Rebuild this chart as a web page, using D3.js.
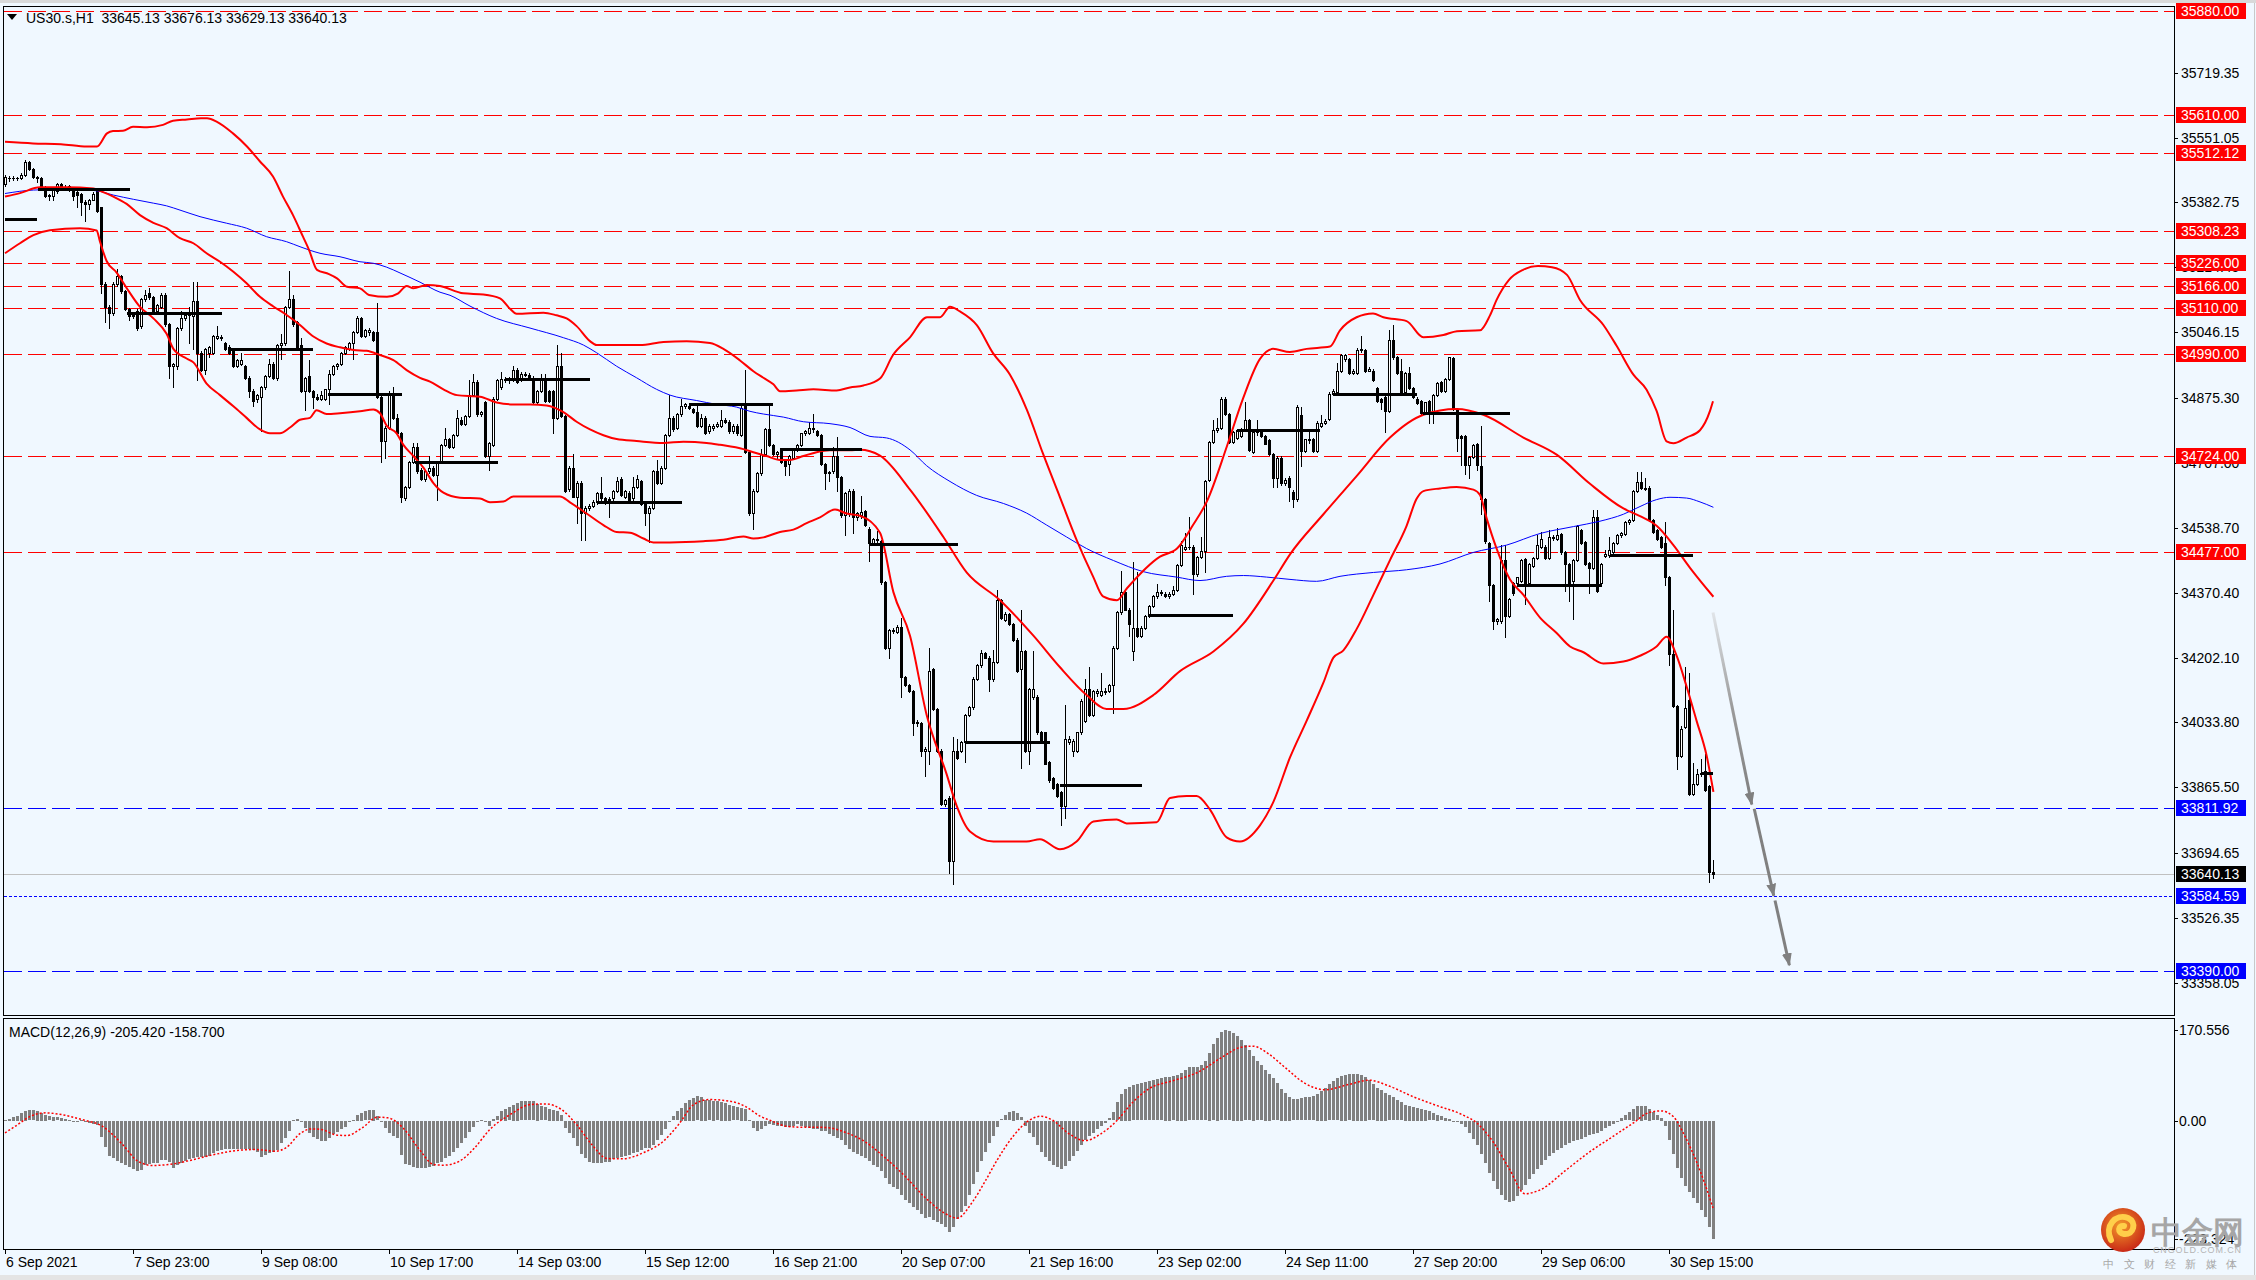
<!DOCTYPE html>
<html>
<head>
<meta charset="utf-8">
<script src="https://cdn.jsdelivr.net/npm/d3@7"></script>
<style>
  body { margin: 0; background: #f0f8ff; }
  svg text { font-family: "Liberation Sans", Arial, sans-serif; font-size: 14px; }
</style>
</head>
<body>
<svg id="chart" width="2256" height="1280"></svg>
<script>
// ---- data: US30.s H1 candles (one entry per bar) ----
var opens = [
35430,35445,35446,35445,35445,35454,35489,35469,35449,35447,
35420,35400,35400,35412,35430,35420,35425,35420,35410,35405,
35385,35380,35390,35415,35370,35171,35112,35097,35171,35191,
35152,35107,35087,35102,35062,35132,35147,35137,35102,35112,
35142,35067,34958,34958,35057,35082,35092,35087,35127,34993,
34948,34993,34993,35032,35035,35018,35008,34998,34958,34963,
34958,34928,34893,34874,34879,34903,34933,34963,34928,35013,
35018,35112,35132,35072,35013,34893,34933,34893,34878,34874,
34874,34898,34938,34958,34963,34993,35003,35018,35047,35082,
35037,35047,35047,35047,34879,34764,34799,34883,34824,34784,
34615,34645,34710,34749,34690,34665,34685,34695,34675,34710,
34754,34769,34749,34779,34819,34809,34829,34883,34918,34834,
34864,34725,34754,34874,34903,34925,34923,34923,34948,34923,
34938,34935,34928,34864,34893,34923,34893,34893,34824,34958,
34829,34640,34695,34620,34655,34576,34591,34596,34605,34630,
34615,34610,34615,34635,34665,34620,34630,34615,34645,34660,
34605,34576,34591,34685,34655,34695,34779,34824,34799,34834,
34854,34856,34846,34839,34804,34824,34789,34799,34804,34804,
34819,34814,34789,34804,34779,34854,34735,34576,34635,34680,
34730,34794,34754,34730,34740,34715,34705,34720,34740,34754,
34784,34784,34797,34789,34779,34705,34680,34685,34725,34670,
34571,34576,34635,34566,34571,34582,34536,34500,34510,34505,
34397,34228,34274,34269,34281,34151,34131,34115,34033,34033,
33961,33961,34172,34069,33961,33823,33838,33674,33961,33961,
33982,34054,34074,34146,34182,34213,34202,34146,34192,34351,
34300,34315,34290,34249,34172,34218,33961,34100,34100,34008,
34008,33931,33889,33874,33853,33818,33982,33961,33961,34008,
34038,34120,34054,34110,34105,34115,34115,34131,34228,34320,
34372,34326,34218,34280,34259,34280,34310,34336,34361,34372,
34367,34362,34367,34377,34443,34485,34490,34490,34418,34464,
34479,34664,34761,34792,34797,34874,34833,34761,34772,34777,
34792,34818,34736,34787,34787,34777,34767,34731,34669,34720,
34654,34669,34633,34613,34832,34738,34768,34768,34738,34802,
34812,34822,34887,34892,34946,34976,34976,34941,34941,34999,
34999,34946,34946,34902,34872,34877,34842,35026,34981,34946,
34892,34941,34902,34874,34867,34837,34867,34837,34884,34917,
34894,34926,34979,34847,34777,34777,34703,34723,34755,34698,
34614,34499,34390,34296,34296,34455,34311,34395,34395,34400,
34457,34395,34440,34460,34490,34490,34460,34514,34509,34522,
34475,34445,34400,34455,34534,34502,34447,34435,34566,34395,
34465,34467,34475,34499,34519,34524,34554,34559,34634,34658,
34640,34643,34559,34534,34514,34499,34410,34212,34077,33948,
34023,34092,33849,33874,33899,33907,33869,33645.13];

var highs = [
35454,35452,35452,35450,35458,35494,35491,35472,35452,35450,
35425,35405,35417,35432,35434,35428,35428,35423,35415,35408,
35388,35392,35410,35420,35372,35176,35118,35176,35211,35195,
35156,35110,35094,35106,35135,35157,35160,35140,35120,35147,
35147,35070,34966,35060,35102,35097,35112,35176,35176,34998,
35006,35010,35040,35062,35040,35022,35012,35002,34976,34993,
34962,34932,34898,34886,34906,34936,34978,34968,35016,35042,
35115,35206,35142,35076,35032,34931,34973,34896,34886,34893,
34900,34948,34960,34966,34996,35010,35022,35050,35087,35086,
35055,35056,35050,35122,34882,34802,34893,34903,34834,34787,
34648,34712,34759,34759,34693,34688,34725,34698,34713,34757,
34799,34772,34782,34844,34826,34832,34923,34938,34923,34842,
34868,34762,34877,34926,34943,34930,34930,34958,34953,34942,
34943,34940,34932,34896,34938,34938,34896,34896,35013,34993,
34832,34698,34730,34660,34660,34596,34600,34610,34633,34670,
34618,34618,34638,34670,34670,34638,34634,34670,34675,34664,
34608,34595,34688,34715,34698,34782,34883,34828,34837,34874,
34862,34862,34849,34859,34834,34828,34808,34808,34814,34844,
34823,34818,34808,34808,34859,34948,34738,34640,34683,34744,
34797,34859,34757,34738,34743,34718,34728,34742,34757,34786,
34792,34814,34834,34792,34782,34708,34686,34749,34774,34674,
34633,34640,34640,34580,34622,34586,34540,34512,34531,34508,
34400,34277,34280,34287,34305,34154,34134,34118,34040,34036,
33970,34228,34175,34072,33964,33836,33842,33997,33992,33985,
34057,34077,34151,34185,34223,34217,34205,34223,34377,34355,
34320,34318,34293,34252,34326,34222,34124,34218,34104,34012,
34010,33935,33892,33877,33856,34079,33998,33990,34010,34095,
34146,34177,34118,34120,34162,34122,34134,34232,34323,34428,
34376,34330,34449,34423,34283,34313,34338,34364,34392,34378,
34372,34372,34387,34446,34505,34526,34567,34494,34466,34515,
34662,34764,34818,34823,34879,34878,34836,34790,34795,34797,
34864,34822,34790,34818,34790,34780,34770,34734,34724,34724,
34668,34672,34636,34857,34852,34770,34787,34772,34815,34832,
34822,34890,34898,34966,34990,34990,34980,34950,35004,35036,
35003,34955,34950,34905,34875,34880,35051,35065,34984,34976,
34944,34956,34905,34877,34870,34866,34870,34886,34916,34920,
34928,34982,34983,34850,34780,34780,34726,34756,34758,34802,
34617,34502,34393,34305,34494,34494,34358,34398,34412,34458,
34460,34448,34463,34519,34529,34493,34534,34520,34539,34525,
34478,34448,34458,34547,34537,34505,34450,34584,34584,34447,
34480,34514,34502,34522,34528,34556,34562,34637,34683,34683,
34668,34646,34562,34537,34517,34554,34413,34326,34080,34025,
34177,34162,33928,33914,33938,33953,33872,33676.13];

var lows = [
35425,35438,35440,35440,35443,35452,35467,35447,35435,35418,
35398,35390,35390,35408,35418,35414,35412,35390,35370,35350,
35335,35365,35388,35358,35147,35072,35057,35092,35165,35148,
35105,35077,35082,35052,35058,35128,35132,35100,35098,35108,
35062,34928,34903,34950,35052,35078,35018,35003,34923,34945,
34938,34983,34990,35028,35025,35000,34990,34955,34955,34960,
34925,34879,34854,34866,34789,34900,34930,34925,34922,34978,
35014,35108,35062,35005,34890,34844,34890,34849,34870,34870,
34870,34859,34935,34952,34960,34990,35000,34978,35044,35034,
35033,35040,35024,34876,34710,34720,34796,34821,34782,34605,
34610,34642,34706,34682,34662,34660,34680,34672,34610,34706,
34750,34747,34745,34776,34805,34806,34826,34880,34830,34830,
34722,34690,34750,34870,34900,34918,34915,34920,34915,34920,
34932,34928,34860,34860,34890,34866,34866,34784,34820,34826,
34632,34635,34618,34551,34506,34506,34585,34592,34600,34612,
34600,34566,34610,34632,34622,34616,34607,34612,34642,34598,
34546,34501,34588,34652,34652,34692,34776,34790,34796,34830,
34850,34846,34836,34800,34800,34783,34786,34792,34800,34800,
34810,34786,34786,34780,34776,34732,34573,34536,34632,34676,
34727,34751,34727,34720,34707,34675,34675,34717,34737,34751,
34780,34781,34788,34777,34702,34640,34660,34682,34635,34568,
34521,34570,34526,34560,34565,34544,34454,34495,34502,34394,
34225,34202,34265,34265,34100,34128,34112,34002,34025,33946,
33895,33925,34066,33958,33820,33818,33643,33615,33938,33958,
33931,34050,34070,34143,34178,34200,34115,34142,34188,34302,
34296,34287,34246,34164,33915,33958,33925,34096,34005,33985,
33925,33880,33860,33840,33767,33787,33978,33946,33958,34005,
34035,34050,34050,34102,34102,34108,34112,34059,34225,34316,
34325,34259,34197,34256,34255,34277,34307,34333,34358,34365,
34360,34358,34364,34374,34440,34480,34484,34367,34415,34460,
34423,34661,34758,34788,34794,34831,34760,34758,34768,34774,
34789,34738,34733,34780,34775,34755,34728,34644,34644,34650,
34650,34608,34592,34608,34698,34735,34760,34735,34735,34800,
34808,34818,34884,34888,34943,34972,34938,34938,34938,34996,
34943,34945,34920,34865,34847,34787,34838,34978,34938,34890,
34888,34900,34875,34860,34835,34834,34812,34812,34880,34892,
34890,34922,34845,34738,34703,34678,34668,34720,34688,34574,
34500,34350,34276,34290,34292,34256,34308,34365,34392,34397,
34341,34392,34437,34457,34487,34457,34457,34508,34506,34472,
34375,34350,34301,34452,34496,34443,34370,34432,34372,34392,
34462,34464,34472,34496,34515,34521,34550,34556,34631,34640,
34636,34556,34526,34506,34487,34390,34182,34074,33914,33945,
34020,33846,33846,33871,33895,33856,33621,33629.13];

var closes = [
35449,35446,35445,35447,35454,35489,35469,35449,35447,35420,
35400,35402,35415,35430,35420,35421,35415,35400,35402,35385,
35380,35390,35405,35360,35171,35112,35097,35171,35191,35152,
35107,35087,35092,35057,35132,35142,35137,35102,35117,35142,
35067,34958,34963,35057,35082,35092,35090,35127,34993,34948,
35003,35008,35037,35037,35032,35003,34993,34958,34973,34973,
34928,34893,34869,34883,34903,34933,34963,34928,35013,35018,
35112,35132,35067,35008,34893,34928,34893,34879,34874,34883,
34898,34938,34958,34963,34993,35008,35018,35047,35082,35037,
35052,35052,35027,34879,34764,34799,34883,34824,34784,34620,
34645,34710,34749,34685,34665,34685,34695,34675,34710,34754,
34769,34749,34779,34824,34809,34829,34883,34918,34834,34839,
34725,34759,34874,34923,34925,34923,34925,34948,34918,34938,
34936,34931,34864,34893,34923,34869,34869,34824,34958,34829,
34635,34695,34620,34655,34576,34591,34596,34605,34630,34615,
34605,34614,34635,34660,34625,34635,34610,34645,34665,34601,
34576,34591,34685,34655,34695,34779,34824,34794,34834,34854,
34859,34849,34839,34804,34824,34786,34804,34804,34809,34819,
34814,34789,34804,34784,34849,34735,34576,34635,34680,34730,
34794,34754,34730,34735,34710,34700,34725,34740,34754,34784,
34789,34799,34794,34779,34705,34680,34684,34725,34670,34571,
34630,34635,34566,34576,34581,34546,34500,34510,34508,34397,
34228,34274,34272,34281,34151,34131,34115,34033,34035,33961,
33966,34167,34069,33961,33823,33833,33674,33961,33941,33982,
34054,34074,34146,34182,34213,34202,34146,34192,34351,34305,
34315,34290,34249,34167,34218,33961,34120,34120,34008,33987,
33925,33884,33864,33843,33818,33992,33992,33987,34008,34090,
34120,34054,34115,34115,34115,34113,34131,34228,34320,34372,
34326,34290,34280,34259,34280,34310,34336,34361,34372,34370,
34362,34367,34377,34443,34495,34490,34490,34418,34464,34479,
34659,34761,34792,34797,34874,34833,34761,34787,34792,34794,
34818,34741,34787,34792,34777,34756,34731,34669,34720,34654,
34664,34644,34613,34852,34738,34768,34766,34738,34812,34812,
34817,34887,34894,34946,34986,34986,34941,34946,35001,35003,
34946,34951,34922,34867,34864,34842,35026,34981,34941,34892,
34941,34902,34877,34862,34837,34864,34837,34884,34914,34894,
34926,34981,34847,34773,34773,34703,34723,34753,34703,34614,
34504,34390,34296,34301,34455,34311,34355,34370,34410,34455,
34395,34445,34460,34494,34509,34460,34514,34512,34519,34475,
34445,34390,34455,34544,34499,34445,34435,34566,34375,34445,
34470,34480,34499,34519,34526,34554,34559,34634,34658,34643,
34643,34559,34529,34509,34490,34410,34212,34077,33948,34018,
34072,33849,33874,33899,33904,33859,33645,33640.13];

// ---- indicator lines, read as [bar, price] points ----
var bbUpper = [[0,35540],[7,35536],[14,35534],[20.5,35528],[23,35528],[25.5,35562],[27,35568],[29.5,35569],[32,35579],[35.5,35578],
[39.5,35584],[42,35595],[45.5,35598],[49,35601],[50.5,35601],[53,35592],[57,35562],[60.5,35528],[63.75,35489],[67,35450],
[69.5,35398],[72,35350],[74.5,35294],[76,35260],[78,35208],[81,35197],[83,35186],[85.5,35164],[88.75,35160],[91,35143],
[95.5,35138],[98.3,35147],[100.4,35166],[102.1,35160],[105.4,35169],[108.75,35166],[114.6,35147],[119.6,35144],[123.75,35134],[126.25,35107],
[127.9,35094],[134.6,35097],[137.9,35090],[140.4,35082],[142.9,35062],[146.25,35023],[147.9,35013],[158.75,35013],[164.6,35021],[170.4,35023],
[176.25,35018],[179.6,35003],[183.75,34973],[187.1,34945],[189.6,34928],[192.1,34911],[193.75,34893],[197.9,34895],[202.1,34898],[207.9,34895],
[211.25,34903],[214.6,34908],[218.75,34926],[222,34987],[226.25,35033],[230.5,35085],[233.75,35085],[236.25,35112],[238.75,35100],[243,35064],
[247,34992],[251.25,34936],[255.5,34844],[259.5,34731],[263.75,34618],[268,34505],[272,34413],[274.5,34361],[278,34351],[280.5,34382],
[288.75,34464],[293,34485],[297,34546],[300.5,34608],[305.5,34751],[309.5,34874],[313.75,34977],[317,35003],[321.25,34995],[325.4,35003],
[331.25,35009],[333.75,35051],[337.9,35085],[342,35095],[344.6,35085],[350.4,35075],[354.6,35033],[359.6,35039],[363,35049],[368.75,35051],
[371.25,35090],[372.9,35130],[376,35182],[379.5,35208],[383.25,35218],[386.75,35215],[390.5,35195],[393.75,35130],[399.6,35065],[402.9,35011],
[407.1,34936],[410.4,34897],[412.9,34842],[415.4,34763],[417.1,34758],[420.4,34773],[423.75,34792],[426.25,34842],[427,34867]];

var bbMiddle = [[0,35398],[3.75,35407],[8.75,35422],[15.4,35422],[22.1,35419],[23.75,35413],[27.1,35398],[30.4,35379],[33.75,35350],[37.1,35330],
[40.4,35316],[43.75,35290],[47.1,35277],[50.4,35251],[53.75,35229],[57.1,35203],[60.4,35173],[63.75,35138],[67.1,35113],[70.4,35091],
[73.75,35065],[77.1,35035],[80.4,35017],[83.75,35007],[87.1,35000],[90.4,34998],[93.75,34987],[97.1,34974],[100.4,34948],[103.75,34928],
[106.25,34918],[109.6,34898],[113,34883],[118.75,34879],[122.9,34864],[127.1,34859],[131.25,34859],[135.4,34856],[139.6,34839],[142.9,34814],
[146.25,34794],[149.6,34779],[152.9,34769],[157.9,34764],[164.6,34759],[169.6,34762],[175.4,34759],[178.75,34754],[184.6,34743],[187.1,34735],
[190.4,34725],[193.75,34715],[196.25,34715],[199.6,34725],[202.9,34735],[206.25,34740],[211.25,34740],[213.75,34741],[218.75,34726],[226.25,34638],
[234.6,34515],[240.4,34423],[248.75,34351],[257.1,34259],[263.75,34177],[270.4,34105],[275.4,34069],[279.6,34069],[287.1,34105],[293.75,34167],
[302.1,34218],[309.6,34290],[317.1,34402],[321.25,34470],[329.6,34574],[337.9,34673],[346.25,34773],[354.6,34832],[362.9,34847],[369.6,34832],
[379.6,34773],[388,34728],[396.25,34653],[404.6,34589],[408.75,34569],[412.9,34544],[417.1,34494],[421.25,34435],[427.1,34360]];

var bbLower = [[0,35251],[3.75,35277],[7.1,35298],[11.25,35311],[18.75,35316],[22.9,35310],[23.75,35281],[25.4,35231],[27.9,35201],[30.4,35161],
[33.75,35112],[37.1,35082],[40.4,35042],[42.1,35003],[45.4,34978],[47.1,34968],[50.4,34913],[53.75,34883],[57.1,34854],[60.4,34824],
[63.75,34794],[66.25,34784],[68.75,34784],[71.25,34799],[73.75,34819],[76.25,34824],[77.9,34844],[80.4,34834],[83.75,34836],[88.75,34841],
[92.1,34846],[93.75,34836],[95.4,34804],[97.9,34784],[99.6,34754],[102.1,34725],[104.6,34695],[107.1,34655],[109.6,34630],[113.75,34617],
[118.75,34615],[121.25,34605],[124.6,34607],[127.1,34620],[131.25,34620],[138.75,34620],[141.25,34605],[145.4,34576],[149.6,34546],[152.9,34528],
[156.25,34526],[159.6,34511],[162.1,34501],[166.25,34501],[174.6,34504],[179.6,34508],[184.6,34516],[187.1,34511],[189.6,34514],[193.75,34528],
[197.1,34534],[200.4,34551],[203.75,34566],[207.5,34586],[210.4,34576],[213.75,34570],[218.75,34526],[222.1,34372],[226.25,34259],[230.4,34054],
[235.4,33900],[237.9,33818],[241.25,33751],[247.1,33725],[255.4,33725],[258.75,33731],[263.75,33705],[267.9,33725],[272.1,33777],[277.9,33782],
[280.4,33772],[287.9,33775],[291.25,33838],[295.4,33843],[297.9,33843],[301.25,33808],[305.4,33736],[308.75,33725],[313.75,33767],[317.1,33828],
[321.25,33943],[325.4,34038],[329.6,34137],[332.1,34202],[334.6,34221],[337.9,34276],[342.1,34365],[346.25,34455],[350.4,34544],[352.9,34614],
[354.6,34634],[358.75,34641],[362.9,34645],[367.1,34638],[368.75,34624],[370.4,34564],[372.9,34485],[376.25,34405],[379.6,34365],[383.75,34306],
[387.9,34266],[391.25,34231],[394.6,34216],[399.6,34187],[404.6,34192],[408.75,34207],[412.9,34231],[415.4,34256],[417.9,34207],[420.4,34127],
[422.9,34038],[425.4,33948],[427.1,33854]];

var maBlue = [[0,35406],[7.1,35415],[15.4,35417],[22.9,35413],[27.1,35402],[32.1,35391],[37.1,35381],[40.4,35374],[43.75,35363],[48.75,35346],
[55.4,35329],[60.4,35316],[65.4,35294],[70.4,35281],[73.75,35268],[78.75,35251],[83.75,35242],[88.75,35229],[92.1,35225],[95.4,35215],
[98.75,35200],[103.75,35176],[108.75,35150],[111.25,35142],[116.25,35114],[122.9,35082],[131.25,35057],[139.6,35032],[144.6,35013],[147.9,34993],
[152.9,34958],[157.9,34928],[162.9,34898],[166.25,34883],[172.9,34869],[177.9,34859],[182.9,34852],[186.25,34841],[189.6,34834],[194.6,34826],
[199.6,34814],[206.25,34809],[211.25,34799],[216.25,34776],[220.4,34772],[226.25,34741],[230.4,34700],[236.25,34659],[242.9,34623],[249.6,34602],
[255.4,34577],[260.4,34546],[265.4,34515],[270.4,34485],[277.1,34454],[284.6,34425],[292.9,34411],[298.75,34402],[305.4,34413],[309.6,34415],
[315.4,34411],[321.25,34405],[327.9,34400],[333.75,34413],[342.1,34423],[350.4,34430],[358.75,34445],[367.1,34475],[375.4,34494],[383.75,34524],
[392.1,34542],[398.75,34556],[404.6,34574],[408.75,34594],[412.9,34612],[416.25,34618],[420.4,34616],[423.75,34606],[427.1,34592]];

// black session segments: start bar, end bar, price
var segStart = [0, 8.25, 30.5, 56.25, 80.75, 102.5, 125, 148, 171.25, 193.75, 216.25, 240, 263.75, 285.75, 308, 332, 354.5, 378, 401.25, 424.25];
var segEnd = [8, 31.25, 54.25, 77, 99.25, 123.25, 146.25, 169.25, 192, 214.25, 238.25, 261.25, 284.25, 307, 328.75, 353, 376.25, 399.25, 422, 427];
var segPrice = [35339, 35419, 35097, 35003, 34887, 34710, 34925, 34606, 34859, 34742, 34498, 33982, 33872, 34313, 34793, 34886, 34837, 34391, 34467, 33902];

// horizontal levels
var redLevels = [35880.00, 35610.00, 35512.12, 35308.23, 35226.00, 35166.00, 35110.00, 34990.00, 34724.00, 34477.00];
var blueLevels = [33811.92, 33390.00];
var dottedLevel = 33584.59;
var bidPrice = 33640.13;
var priceTicks = [35719.35, 35551.05, 35382.75, 35214.45, 35046.15, 34875.30, 34707.00, 34538.70, 34370.40, 34202.10, 34033.80, 33865.50, 33694.65, 33526.35, 33358.05];

// projected arrow: [bar, price] start/end pairs
var arrowPts = [[427, 34319], [436.7, 33821], [437.3, 33810], [442.2, 33584], [442.5, 33572], [446.1, 33404]];

// time axis
var dateBars = [0, 32, 64, 96, 128, 160, 192, 224, 256, 288, 320, 352, 384, 416];
var dateLabels = ["6 Sep 2021", "7 Sep 23:00", "9 Sep 08:00", "10 Sep 17:00", "14 Sep 03:00", "15 Sep 12:00", "16 Sep 21:00",
  "20 Sep 07:00", "21 Sep 16:00", "23 Sep 02:00", "24 Sep 11:00", "27 Sep 20:00", "29 Sep 06:00", "30 Sep 15:00"];

// MACD(12,26,9) main histogram, one value per bar
var macdHist = [
1.8,3.7,6.8,9.4,14.4,18.8,19.4,19.4,18.8,14.4,
11.2,8.1,6.8,6.2,5.0,3.7,1.8,0,0,0.6,
-1.3,-3.2,-5.7,-7.6,-29.5,-48.4,-65.4,-70.4,-75.4,-78.6,
-83.0,-87.4,-90.5,-94.3,-92.4,-83.0,-81.1,-79.8,-79.8,-73.6,
-73.6,-78.0,-88.0,-83.0,-79.8,-75.4,-71.7,-70.4,-67.9,-67.3,
-67.3,-65.4,-61.0,-56.6,-54.7,-53.5,-52.8,-52.8,-52.8,-53.5,
-53.5,-53.5,-54.7,-57.9,-67.3,-64.1,-61.0,-57.9,-54.7,-42.2,
-32.7,-18.9,1.8,3.1,-1.3,-13.9,-23.3,-29.5,-34.0,-37.7,
-37.7,-32.7,-25.2,-20.2,-15.1,-10.7,-2.6,1.8,11.2,14.4,
17.5,19.4,20.7,8.1,0,-13.9,-23.3,-28.2,-32.7,-64.1,
-81.1,-83.0,-86.1,-88.0,-88.0,-88.0,-87.4,-84.2,-79.8,-76.7,
-70.4,-65.4,-57.9,-51.6,-42.2,-31.5,-20.2,-10.7,0,0.6,
-1.3,-8.9,3.7,8.1,17.5,22.6,25.1,30.1,33.2,36.4,
36.4,36.4,36.4,31.3,26.9,25.1,22.6,20.7,18.8,11.2,
-12.6,-23.3,-32.7,-46.5,-62.8,-70.4,-76.7,-79.8,-79.2,-79.2,
-78.0,-76.7,-72.3,-70.4,-68.5,-65.4,-64.1,-61.0,-57.9,-54.7,
-51.6,-50.3,-45.3,-35.9,-26.4,-15.8,-2.6,8.1,17.5,23.8,
33.2,39.5,42.7,45.8,44.5,39.5,38.3,37.6,36.4,35.1,
33.2,30.1,26.9,25.1,23.8,22.6,1.8,-12.6,-18.9,-15.1,
-8.9,-6.3,-7.6,-8.9,-9.5,-10.7,-10.7,-8.9,-6,-9,
-12,-14,-15,-16,-18,-19,-24,-28,-32,-36,
-45,-52,-58,-62,-66,-70,-76,-82,-86,-95,
-108,-118,-124,-128,-140,-148,-155,-162,-168,-176,
-183,-180,-186,-190,-195,-200,-210,-200,-185,-172,
-160,-140,-118,-96,-76,-58,-42,-28,-12,2,
10,16,18,14,6,-10,-22,-30,-46,-58,
-68,-76,-82,-86,-90,-84,-76,-66,-56,-46,
-36,-28,-22,-16,-10,-4,4,16,34,50,
60,64,66,68,70,72,74,76,78,80,
82,82,83,86,90,96,100,100,100,104,
112,128,144,156,166,170,168,165,160,152,
142,132,122,112,104,96,88,80,70,60,
52,45,40,40,42,44,44,46,50,56,
62,68,74,80,84,86,87,88,88,86,
82,76,68,62,58,52,48,44,38,34,
30,28,26,24,22,20,17,14,11,8,
5,3,0,-2,-5,-12,-22,-34,-46,-62,
-80,-98,-114,-128,-140,-148,-152,-150,-142,-130,
-120,-110,-100,-90,-82,-74,-66,-60,-54,-50,
-46,-42,-38,-35,-33,-30,-27,-24,-22,-18,
-14,-10,-5,0,5,10,16,22,27,28,
27,22,16,10,5,-10,-35,-62,-88,-108,
-122,-133,-145,-155,-167,-180,-200,-222];

// MACD signal line, read as [bar, value] points
var macdSignal = [[0,-23.3],[2.6,-10.7],[6.4,8.1],[10.2,14.4],[14.1,11.2],[19.2,1.8],[24.3,-10.7],[29.4,-45.3],[33.2,-76.7],[37,-84.8],
[42.1,-81.7],[47.2,-73.6],[52.3,-64.1],[58.7,-55.9],[62.5,-54.7],[67.6,-57.9],[70.2,-51.6],[74,-23.3],[76.6,-15.8],[79.1,-17],
[83,-27.6],[85.5,-28.3],[89.3,-13.9],[93.1,6.2],[95.7,5],[99.5,-13.9],[103.3,-51.6],[107.2,-82.9],[109.7,-84.2],[113.6,-76.7],
[117.4,-51.6],[121.2,-17],[126.3,11.2],[131.4,30.1],[135.2,31.3],[139.1,20.7],[142.9,-7.6],[146.7,-45.3],[150.5,-71.6],[154.4,-72.3],
[159.5,-61],[164.6,-39],[168.4,-7.6],[172.2,30.1],[176.1,39.5],[181.2,36.4],[185,26.9],[188.8,8.1],[191.4,0],[195.2,-10.7],
[198.8,-12.6],[205,-13],[210,-22],[215,-40],[220,-70],[225,-105],[230,-145],[235,-175],[238,-184],[242,-152],
[245,-115],[248,-75],[252,-30],[256,0],[259,8],[262,0],[266,-25],[270,-38],[274,-25],[278,0],
[282,35],[286,60],[292,75],[298,90],[304,118],[309,138],[312,140],[316,125],[320,100],[325,70],
[330,58],[336,68],[341,76],[346,65],[352,45],[358,28],[364,12],[368,-5],[372,-40],[376,-90],
[380,-138],[384,-130],[390,-95],[396,-60],[402,-30],[407,-5],[411,15],[414,18],[417,8],[420,-30],
[423,-80],[425,-120],[427,-165]];

// ---- layout ----
var frame = {left: 4, right: 2174, top: 7, bottom: 1015, macdTop: 1019, macdBottom: 1249};
var x = d3.scaleLinear().domain([0, 427]).range([5, 1713]);
var y = d3.scaleLinear().domain([33275, 35880]).range([1015, 10.8]);
var ym = d3.scaleLinear().domain([-223.324, 170.556]).range([1239, 1030]);
var px = i => Math.round(x(i));
var py = p => Math.round(y(p));

var svg = d3.select("#chart");
var defs = svg.append("defs");

defs.append("clipPath").attr("id", "clipPrice").append("rect")
    .attr("x", frame.left).attr("y", frame.top)
    .attr("width", frame.right - frame.left).attr("height", frame.bottom - frame.top);
defs.append("clipPath").attr("id", "clipMacd").append("rect")
    .attr("x", frame.left).attr("y", frame.macdTop)
    .attr("width", frame.right - frame.left).attr("height", frame.macdBottom - frame.macdTop);

defs.append("marker").attr("id", "head")
    .attr("markerUnits", "userSpaceOnUse").attr("markerWidth", 14).attr("markerHeight", 10)
    .attr("refX", 12).attr("refY", 5).attr("orient", "auto")
  .append("path").attr("d", "M0,0L13,5L0,10Z").attr("fill", "#808080");

svg.append("rect").attr("width", 2256).attr("height", 1280).attr("fill", "#f0f8ff");
// window chrome
svg.append("rect").attr("x", 0).attr("y", 0).attr("width", 2256).attr("height", 3).attr("fill", "#d9d9d9");
svg.append("rect").attr("x", 0).attr("y", 1275).attr("width", 2256).attr("height", 5).attr("fill", "#e4e4e4");

// ---- price pane ----
var priceG = svg.append("g").attr("clip-path", "url(#clipPrice)");

var lvl = priceG.append("g").attr("shape-rendering", "crispEdges");
lvl.append("line")
    .attr("x1", frame.left).attr("x2", frame.right)
    .attr("y1", py(bidPrice) + 0.5).attr("y2", py(bidPrice) + 0.5)
    .attr("stroke", "#c0c0c0");
lvl.selectAll("line.red").data(redLevels).join("line").attr("class", "red")
    .attr("x1", frame.left).attr("x2", frame.right)
    .attr("y1", d => py(d) + 0.5).attr("y2", d => py(d) + 0.5)
    .attr("stroke", "#ff0000").attr("stroke-dasharray", "18,6");
lvl.selectAll("line.blue").data(blueLevels).join("line").attr("class", "blue")
    .attr("x1", frame.left).attr("x2", frame.right)
    .attr("y1", d => py(d) + 0.5).attr("y2", d => py(d) + 0.5)
    .attr("stroke", "#0000ff").attr("stroke-dasharray", "18,6");
lvl.append("line")
    .attr("x1", frame.left).attr("x2", frame.right)
    .attr("y1", py(dottedLevel) + 0.5).attr("y2", py(dottedLevel) + 0.5)
    .attr("stroke", "#0000ff").attr("stroke-dasharray", "3,2");

// candles
var bars = d3.range(opens.length).map(i => ({i: i, o: opens[i], h: highs[i], l: lows[i], c: closes[i]}));
var cg = priceG.append("g").attr("shape-rendering", "crispEdges")
  .selectAll("g").data(bars).join("g");

cg.append("line")
    .attr("x1", d => px(d.i) + 0.5).attr("x2", d => px(d.i) + 0.5)
    .attr("y1", d => py(d.h)).attr("y2", d => py(d.l) + 1)
    .attr("stroke", "#000");

cg.each(function(d) {
  var g = d3.select(this);
  var top = py(Math.max(d.o, d.c)), bot = py(Math.min(d.o, d.c));
  var cx = px(d.i);
  if (bot - top < 1) {
    g.append("rect").attr("x", cx - 1).attr("y", top).attr("width", 3).attr("height", 1).attr("fill", "#000");
  } else if (d.c > d.o) {
    g.append("rect").attr("x", cx - 0.5).attr("y", top + 0.5).attr("width", 2).attr("height", bot - top)
        .attr("fill", "#fff").attr("stroke", "#000");
  } else {
    g.append("rect").attr("x", cx - 1).attr("y", top).attr("width", 3).attr("height", bot - top + 1)
        .attr("fill", "#000");
  }
});

// indicators
var line = d3.line().x(d => x(d[0])).y(d => y(d[1])).curve(d3.curveMonotoneX);
priceG.append("path").datum(maBlue).attr("d", line)
    .attr("fill", "none").attr("stroke", "#0000ff").attr("stroke-width", 1);
[bbUpper, bbMiddle, bbLower].forEach(function(band) {
  priceG.append("path").datum(band).attr("d", line)
      .attr("fill", "none").attr("stroke", "#ff0000").attr("stroke-width", 2)
      .attr("stroke-linejoin", "round");
});

// session segments
priceG.append("g").attr("shape-rendering", "crispEdges")
  .selectAll("line").data(segPrice).join("line")
    .attr("x1", (d, i) => x(segStart[i])).attr("x2", (d, i) => x(segEnd[i]))
    .attr("y1", d => py(d) + 0.5).attr("y2", d => py(d) + 0.5)
    .attr("stroke", "#000").attr("stroke-width", 3);

// projection arrow
var grad = defs.append("linearGradient").attr("id", "fade").attr("gradientUnits", "userSpaceOnUse")
    .attr("x1", x(arrowPts[0][0])).attr("y1", y(arrowPts[0][1]))
    .attr("x2", x(arrowPts[1][0])).attr("y2", y(arrowPts[1][1]));
grad.append("stop").attr("offset", 0).attr("stop-color", "#e0e4e8");
grad.append("stop").attr("offset", 0.5).attr("stop-color", "#9a9a9a");
grad.append("stop").attr("offset", 1).attr("stop-color", "#808080");
[0, 2, 4].forEach(function(k) {
  priceG.append("line")
      .attr("x1", x(arrowPts[k][0])).attr("y1", y(arrowPts[k][1]))
      .attr("x2", x(arrowPts[k + 1][0])).attr("y2", y(arrowPts[k + 1][1]))
      .attr("stroke", k === 0 ? "url(#fade)" : "#808080").attr("stroke-width", 3)
      .attr("marker-end", "url(#head)");
});

// header
svg.append("path").attr("d", "M7,14H17L12,20Z").attr("fill", "#000");
svg.append("text").attr("x", 26).attr("y", 23)
    .text("US30.s,H1  33645.13 33676.13 33629.13 33640.13").attr("xml:space", "preserve");

// ---- MACD pane ----
var macdG = svg.append("g").attr("clip-path", "url(#clipMacd)");
macdG.append("g").attr("shape-rendering", "crispEdges")
  .selectAll("rect").data(macdHist).join("rect")
    .attr("x", (d, i) => px(i) - 1).attr("width", 3)
    .attr("y", d => Math.round(Math.min(ym(d), ym(0))))
    .attr("height", d => Math.max(1, Math.round(Math.abs(ym(d) - ym(0)))))
    .attr("fill", "#808080");
macdG.append("path").datum(macdSignal)
    .attr("d", d3.line().x(d => x(d[0])).y(d => ym(d[1])).curve(d3.curveMonotoneX))
    .attr("fill", "none").attr("stroke", "#ff0000").attr("stroke-width", 1.5).attr("stroke-dasharray", "2,2");
svg.append("text").attr("x", 9).attr("y", 1037).text("MACD(12,26,9) -205.420 -158.700");

// ---- frames and axes ----
var fr = svg.append("g").attr("fill", "none").attr("stroke", "#000").attr("shape-rendering", "crispEdges");
fr.append("rect").attr("x", frame.left - 0.5).attr("y", frame.top - 0.5)
    .attr("width", frame.right - frame.left + 1).attr("height", frame.bottom - frame.top + 1);
fr.append("rect").attr("x", frame.left - 0.5).attr("y", frame.macdTop - 0.5)
    .attr("width", frame.right - frame.left + 1).attr("height", frame.macdBottom - frame.macdTop + 1);
svg.append("line").attr("x1", 2254.5).attr("x2", 2254.5).attr("y1", 3).attr("y2", 1275).attr("stroke", "#c8c8c8");

// price axis ticks
var axG = svg.append("g");
axG.selectAll("line").data(priceTicks).join("line")
    .attr("x1", frame.right).attr("x2", frame.right + 4)
    .attr("y1", d => py(d) + 0.5).attr("y2", d => py(d) + 0.5)
    .attr("stroke", "#000").attr("shape-rendering", "crispEdges");
axG.selectAll("text").data(priceTicks).join("text")
    .attr("x", 2181).attr("y", d => py(d) + 5).text(d => d.toFixed(2));

// level tags on the axis
function tag(price, color) {
  var yy = py(price);
  svg.append("rect").attr("x", 2176).attr("y", yy - 8).attr("width", 70).attr("height", 16).attr("fill", color);
  svg.append("text").attr("x", 2181).attr("y", yy + 5).attr("fill", "#fff").text(price.toFixed(2));
}
redLevels.forEach(p => tag(p, "#ff0000"));
blueLevels.forEach(p => tag(p, "#0000ff"));
tag(dottedLevel, "#0000ff");
tag(bidPrice, "#000000");

// MACD axis
[170.556, 0, -223.324].forEach(function(v) {
  var yy = Math.round(ym(v));
  svg.append("line").attr("x1", frame.right).attr("x2", frame.right + 4)
      .attr("y1", yy + 0.5).attr("y2", yy + 0.5).attr("stroke", "#000").attr("shape-rendering", "crispEdges");
  svg.append("text").attr("x", 2179).attr("y", yy + 5).text(v === 0 ? "0.00" : v.toFixed(3));
});

// time axis
var tg = svg.append("g");
tg.selectAll("line").data(dateBars).join("line")
    .attr("x1", d => px(d) + 0.5).attr("x2", d => px(d) + 0.5)
    .attr("y1", frame.macdBottom).attr("y2", frame.macdBottom + 5)
    .attr("stroke", "#000").attr("shape-rendering", "crispEdges");
tg.selectAll("text").data(dateBars).join("text")
    .attr("x", d => px(d) + 1).attr("y", 1267).text((d, i) => dateLabels[i]);

// ---- watermark logo ----
var rg = defs.append("radialGradient").attr("id", "logoGrad").attr("cx", "45%").attr("cy", "40%").attr("r", "60%");
rg.append("stop").attr("offset", 0).attr("stop-color", "#f39a2a");
rg.append("stop").attr("offset", 1).attr("stop-color", "#c92a17");
var logo = svg.append("g");
logo.append("circle").attr("cx", 2123).attr("cy", 1230).attr("r", 22).attr("fill", "url(#logoGrad)");
logo.append("path")
    .attr("d", "M2111,1240 C2104,1226 2116,1213 2128,1218 C2137,1222 2134,1235 2124,1234 C2117,1233 2118,1225 2124,1226")
    .attr("fill", "none").attr("stroke", "#ffcf4a").attr("stroke-width", 6).attr("stroke-linecap", "round");
logo.append("text").attr("x", 2151).attr("y", 1243)
    .attr("font-family", "'Noto Sans CJK SC', sans-serif").style("font-size", "31px").style("font-weight", "bold")
    .attr("fill", "#a6a6a6").text("中金网");
logo.append("text").attr("x", 2153).attr("y", 1253).style("font-size", "9px").attr("fill", "#b4b4b4")
    .attr("textLength", 88).text("CNGOLD.COM.CN");
logo.append("text").attr("x", 2103).attr("y", 1268)
    .attr("font-family", "'Noto Sans CJK SC', sans-serif").style("font-size", "11px")
    .attr("fill", "#a6a6a6").attr("textLength", 134).text("中文财经新媒体");
</script>
</body>
</html>
